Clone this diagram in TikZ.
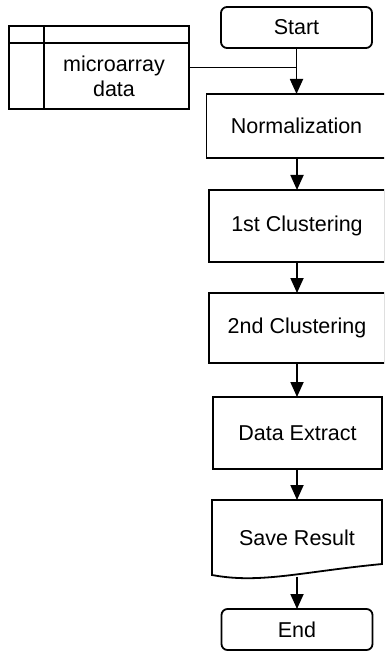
\documentclass[tikz,border=0pt]{standalone}
\usepackage{fontspec}
\setmainfont{Liberation Sans}
\usetikzlibrary{arrows.meta}
\begin{document}
\begin{tikzpicture}[x=1pt,y=-1pt,
  every node/.style={font=\fontsize{21.5}{25}\selectfont, inner sep=0pt, outer sep=0pt},
  box/.style={draw, line width=1.8pt},
  term/.style={draw, line width=1.8pt, rounded corners=6pt, minimum width=151pt, minimum height=41pt},
  plain/.style={draw=none},
  conn/.style={line width=1.8pt},
  arr/.style={line width=1.8pt, -{Triangle[width=13pt,length=15pt]}}]
\useasboundingbox (0,0) rectangle (384,652);
\clip (0,0) rectangle (384,652);
% terminals
\node[term] (start) at (296.5,27.5) {Start};
\node[term] (end) at (297,629.5) {End};
% data store
\node[box, minimum width=180pt, minimum height=83pt] (store) at (99,67.5) {};
\draw[conn] ([yshift=-17pt]store.north west) -- ([yshift=-17pt]store.north east);
\draw[conn] ([xshift=35pt]store.north west) -- ([xshift=35pt]store.south west);
\node[align=center] (storetxt) at (114,76) {microarray\\data};
% process boxes
\node[box, minimum width=180pt, minimum height=64pt] (norm) at (296.5,126) {Normalization};
\node[box, minimum width=176pt, minimum height=72pt] (c1) at (297,226) {1st Clustering};
\node[box, minimum width=176pt, minimum height=70pt] (c2) at (297,328) {2nd Clustering};
\node[box, minimum width=169pt, minimum height=72pt] (ext) at (297.5,433) {Data Extract};
% save result (document shape)
\node[plain, minimum width=170pt, minimum height=75pt] (save) at (297,537.5) {Save Result};
\draw[conn] (save.north west) -- (save.north east) -- ([yshift=11pt]save.south east)
  .. controls (300,572) and (260,584) .. (save.south west) -- cycle;
\coordinate (savebot) at (297,576.5);
% connectors
\draw[arr] (start.south) -- (start.south |- norm.north);
\draw[conn] (store.east) -- (store.east -| start.south);
\draw[arr] (norm.south -| c1.north) -- (c1.north);
\draw[arr] (c1.south) -- (c2.north);
\draw[arr] (c2.south) -- (c2.south |- ext.north);
\draw[arr] (ext.south -| save.north) -- (save.north);
\draw[arr] (savebot) -- (savebot |- end.north);
\end{tikzpicture}
\end{document}
